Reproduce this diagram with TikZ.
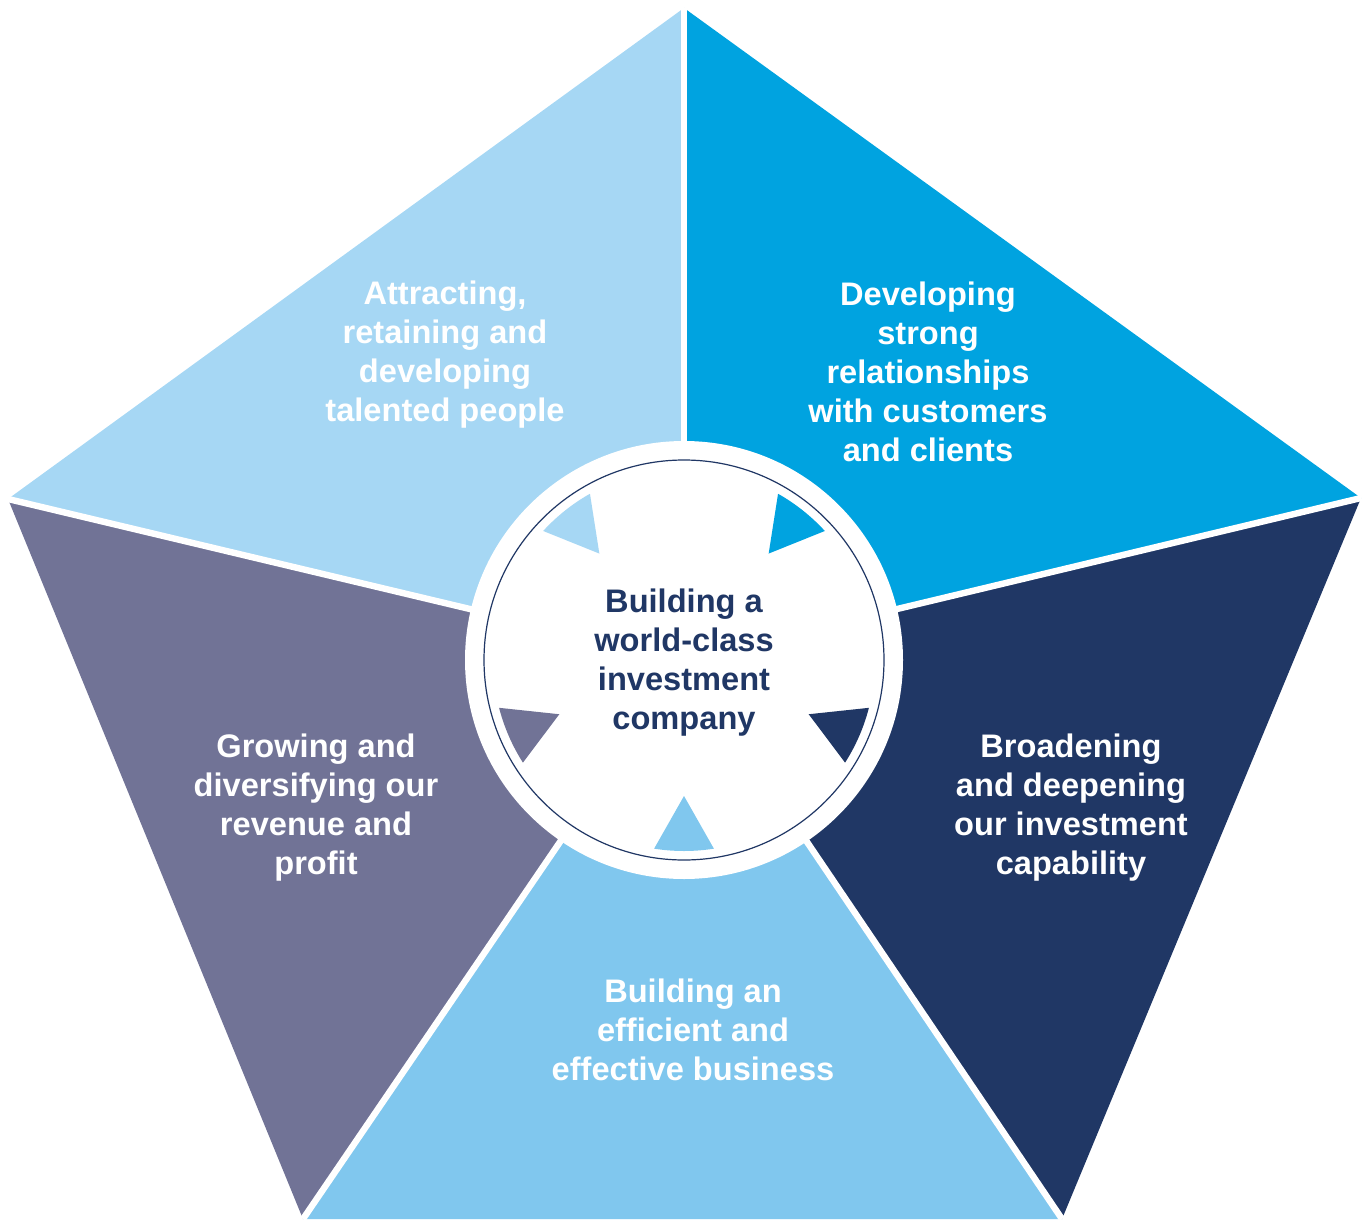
\documentclass[tikz,border=0pt]{standalone}
\usepackage{fontspec}
\setmainfont{Liberation Sans}
\usetikzlibrary{calc}

\definecolor{paleblue}{RGB}{166,215,244}
\definecolor{brightblue}{RGB}{0,163,224}
\definecolor{deepnavy}{RGB}{32,55,101}
\definecolor{skyblue}{RGB}{128,199,238}
\definecolor{slate}{RGB}{113,115,150}

\begin{document}
\begin{tikzpicture}[x=0.5pt, y=-0.5pt,
		goal/.style={align=center, text=white, font=\bfseries\fontsize{16.3}{19.5}\selectfont},
		gap/.style={white, line width=3.2pt}]
		\useasboundingbox (0,0) rectangle (1365,1220);
		\coordinate (o) at (684,660);
		\coordinate (v0) at (684,8);
		\coordinate (v1) at (1361,498);
		\coordinate (v2) at (1062,1219);
		\coordinate (v3) at (303,1219);
		\coordinate (v4) at (8,499);

		\fill[brightblue] (o) -- (v0) -- (v1) -- cycle;
		\fill[deepnavy] (o) -- (v1) -- (v2) -- cycle;
		\fill[skyblue] (o) -- (v2) -- (v3) -- cycle;
		\fill[slate] (o) -- (v3) -- (v4) -- cycle;
		\fill[paleblue] (o) -- (v4) -- (v0) -- cycle;
		\foreach \i in {0,1,2,3,4}
			\draw[gap] (o) -- (v\i);

		\fill[white] (o) circle[radius=219];
		\draw[deepnavy, line width=0.6pt] (o) circle[radius=200];

		% small inward arrows, one per segment colour
		\foreach \a/\c in {-51.5/brightblue, 23.5/deepnavy, 90/skyblue, 156.5/slate, 231.5/paleblue}
			\fill[\c, shift={(o)}] (\a-9:191) arc[start angle=\a-9, end angle=\a+9, radius=191] -- (\a:136) -- cycle;

		\node[goal] (people) at (445,355) {Attracting,\\retaining and\\developing\\talented people};
		\node[goal] (clients) at (928,372) {Developing\\strong\\relationships\\with customers\\and clients};
		\node[goal] (capability) at (1071,808) {Broadening\\and deepening\\our investment\\capability};
		\node[goal] (business) at (693,1030) {Building an\\efficient and\\effective business};
		\node[goal] (revenue) at (316,808) {Growing and\\diversifying our\\revenue and\\profit};
		\node[goal, text=deepnavy, yshift=-1.5pt] (hub) at (o) {Building a\\world-class\\investment\\company};
	\end{tikzpicture}
\end{document}
